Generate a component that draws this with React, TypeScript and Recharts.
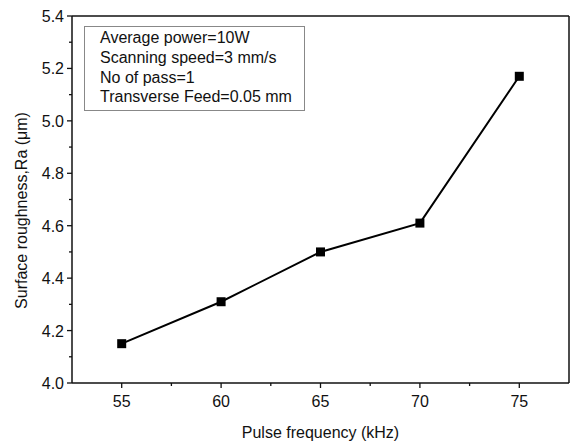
import {
    Line,
    LineChart,
    ReferenceLine,
    XAxis,
    YAxis,
} from "recharts";

const frequencies = [55, 60, 65, 70, 75];
const roughness = [4.15, 4.31, 4.5, 4.61, 5.17];

const xMajorTicks = [55, 60, 65, 70, 75];
const xMinorTicks = [57.5, 62.5, 67.5, 72.5];
const yMajorTicks = [4.0, 4.2, 4.4, 4.6, 4.8, 5.0, 5.2, 5.4];
const yMinorTicks = [4.1, 4.3, 4.5, 4.7, 4.9, 5.1, 5.3];

const conditions = [
    "Average power=10W",
    "Scanning speed=3 mm/s",
    "No of pass=1",
    "Transverse Feed=0.05 mm",
];

const FONT = "'Liberation Sans', Arial, Helvetica, sans-serif";
const INK = "#111";

const data = frequencies.map((f, i) => ({ freq: f, ra: roughness[i] }));

function XTick(props: any) {
    const { x, y, payload } = props;
    const major = xMajorTicks.includes(payload.value);
    return (
        <g>
            <line x1={x} y1={y} x2={x} y2={y + (major ? 5 : 3)} stroke={INK} strokeWidth={1.3} />
            {major && (
                <text x={x} y={y + 24} textAnchor="middle" fontSize={16} fontFamily={FONT} fill={INK}>
                    {payload.value}
                </text>
            )}
        </g>
    );
}

function YTick(props: any) {
    const { x, y, payload } = props;
    const major = yMajorTicks.some((t) => Math.abs(t - payload.value) < 1e-6);
    return (
        <g>
            <line x1={x - (major ? 5 : 3)} y1={y} x2={x} y2={y} stroke={INK} strokeWidth={1.3} />
            {major && (
                <text x={x - 8} y={y + 6} textAnchor="end" fontSize={16} fontFamily={FONT} fill={INK}>
                    {payload.value.toFixed(1)}
                </text>
            )}
        </g>
    );
}

function SquareDot(props: any) {
    const { cx, cy } = props;
    if (cx == null || cy == null) return null;
    return <rect x={cx - 4.5} y={cy - 4.5} width={9} height={9} fill="#000" />;
}

// y label placed a bit below the plot centre, like the original
function YTitle(props: any) {
    const { viewBox } = props;
    const cx = 27;
    const cy = viewBox.y + viewBox.height / 2 + 11;
    return (
        <text
            x={cx}
            y={cy}
            transform={`rotate(-90, ${cx}, ${cy})`}
            textAnchor="middle"
            fontSize={16}
            fontFamily={FONT}
            fill={INK}
        >
            Surface roughness,Ra (μm)
        </text>
    );
}

export default function App() {
    return (
        <div style={{ position: "absolute", left: 0, top: 0, width: 575, height: 441, background: "#fff" }}>
            <LineChart width={575} height={441} data={data} margin={{ top: 16, right: 6, bottom: 0, left: 0 }}>
                <XAxis
                    dataKey="freq"
                    type="number"
                    domain={[52.5, 77.5]}
                    ticks={[...xMajorTicks, ...xMinorTicks].sort((a, b) => a - b)}
                    allowDataOverflow
                    height={58}
                    tickSize={0}
                    tickMargin={0}
                    tickLine={false}
                    tick={<XTick />}
                    axisLine={{ stroke: INK, strokeWidth: 1.5 }}
                    label={{
                        value: "Pulse frequency (kHz)",
                        position: "insideBottom",
                        offset: 3,
                        style: { fontSize: 16, fontFamily: FONT, fill: INK },
                    }}
                />
                <YAxis
                    type="number"
                    domain={[4.0, 5.4]}
                    ticks={[...yMajorTicks, ...yMinorTicks].sort((a, b) => a - b)}
                    allowDataOverflow
                    width={72}
                    tickSize={0}
                    tickMargin={0}
                    tickLine={false}
                    tick={<YTick />}
                    axisLine={{ stroke: INK, strokeWidth: 1.5 }}
                    label={{ content: <YTitle /> }}
                />
                <ReferenceLine y={5.4} stroke={INK} strokeWidth={1.5} />
                <ReferenceLine x={77.5} stroke={INK} strokeWidth={1.5} />
                <Line
                    dataKey="ra"
                    type="linear"
                    stroke="#000"
                    strokeWidth={2}
                    dot={<SquareDot />}
                    activeDot={false}
                    isAnimationActive={false}
                />
            </LineChart>
            <div
                style={{
                    position: "absolute",
                    left: 84,
                    top: 26,
                    width: 204,
                    height: 82,
                    border: "1px solid #888",
                    padding: "1px 0 0 15px",
                    fontFamily: FONT,
                    fontSize: 16,
                    lineHeight: "19.8px",
                    color: INK,
                    boxSizing: "content-box",
                    whiteSpace: "nowrap",
                }}
            >
                {conditions.map((c) => (
                    <div key={c}>{c}</div>
                ))}
            </div>
        </div>
    );
}
